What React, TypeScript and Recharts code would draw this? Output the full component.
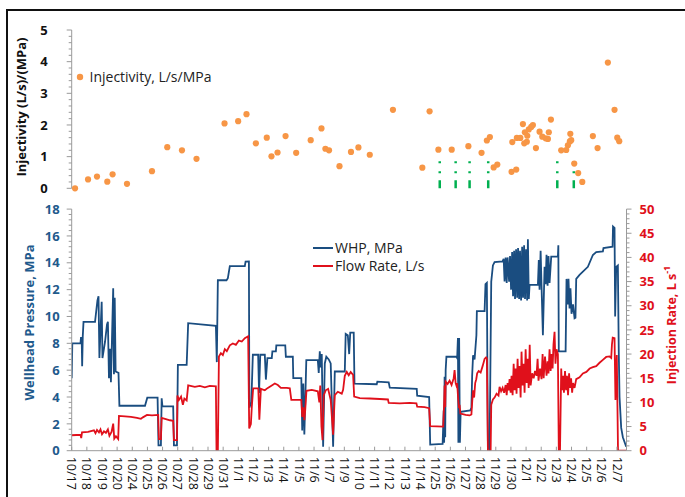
import React from 'react';
import { ScatterChart, Scatter, LineChart, Line, XAxis, YAxis, ReferenceLine, Legend } from 'recharts';

const FONT = "'Open Sans', 'Noto Sans', sans-serif";
const AXIS_GREY = '#9a9a9a';
const BLUE = '#1a4d80';
const BLUE_TEXT = '#1f5a8c';
const RED = '#e0101b';
const ORANGE = '#f79646';
const GREEN = '#00b050';

// ---------- category (date) labels on the time axis ----------
const dateLabels = ['10/17','10/18','10/19','10/20','10/24','10/25','10/26','10/27','10/28','10/29','10/31','11/1','11/2','11/3','11/4','11/5','11/6','11/7','11/9','11/10','11/11','11/12','11/13','11/14','11/25','11/26','11/27','11/28','11/29','11/30','12/1','12/2','12/3','12/4','12/5','12/6','12/7'];
const X_MAX = 36.63;
const dayTicks = dateLabels.map((_, i) => i);

// ---------- injectivity (top panel) ----------
const injDay = [0.22,1.08,1.67,2.35,2.70,3.65,5.30,6.31,7.28,8.24,10.09,10.99,11.54,12.16,12.88,13.19,13.59,14.12,14.82,15.78,16.49,16.75,16.99,17.68,18.44,18.93,19.68,21.21,23.15,23.63,24.21,25.09,26.19,27.06,27.41,27.61,27.86,28.10,29.04,29.35,29.09,29.39,29.62,29.79,29.92,29.88,30.05,30.08,30.18,30.34,30.45,30.65,30.89,31.07,31.29,31.44,31.50,31.64,32.32,32.65,32.76,32.89,32.92,32.98,33.18,33.44,33.71,34.41,34.72,35.40,35.84,36.02,36.15];
const injValue = [0,0.28,0.37,0.21,0.44,0.14,0.54,1.30,1.20,0.93,2.05,2.12,2.34,1.42,1.60,1.01,1.13,1.65,1.12,1.52,1.89,1.25,1.20,0.70,1.15,1.29,1.06,2.48,0.65,2.43,1.22,1.22,1.33,1.12,1.51,1.62,0.66,0.75,0.52,0.59,1.46,1.59,1.59,2.03,1.77,1.42,1.47,1.66,1.86,1.94,2.00,1.27,1.79,1.63,1.58,1.56,1.77,2.17,1.20,1.21,1.36,1.48,1.72,1.52,0.78,0.48,0.20,1.65,1.27,3.97,2.48,1.60,1.49];
const stageMarkerDay = [24.3, 25.35, 26.27, 27.5, 32.06, 33.15];
const stageMarkerTop = 0.9;

// ---------- wellhead pressure (MPa) ----------
const whpDay = [
  0.00,0.04,0.58,0.61,0.66,0.69,0.73,0.78,1.54,1.64,
  1.70,1.77,1.83,1.98,2.03,2.20,2.33,2.39,2.46,2.53,
  2.59,2.74,2.79,2.84,2.90,3.09,3.15,4.84,4.99,5.67,
  5.73,5.89,5.94,5.99,6.70,6.75,6.95,7.01,7.59,7.69,
  9.52,9.58,9.65,10.22,10.31,10.44,11.43,11.48,11.70,11.73,
  11.86,11.96,12.31,12.37,12.45,12.75,12.82,12.92,13.21,13.25,
  13.48,13.51,14.10,14.14,14.60,14.63,15.16,15.22,15.29,15.36,
  15.49,16.25,16.31,16.38,16.44,16.51,16.60,16.71,16.81,16.97,
  17.10,17.26,17.37,18.03,18.09,18.23,18.32,18.39,18.62,18.67,
  20.14,20.18,20.93,21.00,22.78,22.81,23.60,23.67,24.49,24.56,
  24.59,24.62,24.66,24.69,24.74,25.40,25.45,25.50,25.53,25.58,
  25.63,25.68,26.31,26.39,26.44,26.50,26.60,26.72,26.75,27.26,
  27.32,27.41,27.48,27.59,27.70,27.81,27.92,28.45,28.52,28.58,
  28.65,28.72,28.78,28.88,28.94,29.01,29.08,29.14,29.21,29.27,
  29.34,29.41,29.47,29.54,29.60,29.67,29.74,29.80,29.87,29.93,
  30.00,30.07,30.12,30.18,30.23,30.78,30.84,30.89,30.96,31.02,
  31.11,31.22,31.29,31.35,31.42,31.48,31.55,31.66,32.10,32.13,
  32.16,32.61,32.67,32.74,32.80,32.87,32.93,33.00,33.10,33.20,
  33.26,33.31,33.53,34.08,34.41,34.63,35.07,35.11,35.71,35.74,
  35.84,35.88,35.95,36.06,36.12,36.17,36.28,36.39,36.61
];
const whpValue = [
  5.4,8.0,8.0,8.4,8.4,6.3,8.5,9.6,9.6,10.6,
  11.2,11.5,6.9,11.1,6.9,8.1,9.4,9.6,5.4,7.6,
  5.1,12.1,5.7,11.4,5.9,5.8,3.35,3.35,3.95,3.95,
  0.4,0.4,3.9,3.3,3.3,0.4,0.4,6.4,6.4,9.5,
  9.3,6.6,12.7,12.7,12.85,13.75,13.75,14.08,14.1,3.2,
  3.6,7.15,7.15,4.3,7.15,7.15,5.3,6.9,6.9,7.4,
  7.4,7.85,7.85,7.0,7.0,5.4,5.4,1.5,5.0,1.2,
  6.75,6.75,5.8,7.4,6.2,7.2,0.3,6.5,7.0,6.8,
  6.5,0.3,5.9,5.9,8.7,8.6,7.2,8.8,8.8,5.0,
  4.95,5.15,5.1,4.7,4.6,4.1,4.0,0.45,0.5,3.0,
  0.6,5.5,1.0,6.0,7.0,7.0,6.9,8.4,0.6,8.4,
  0.6,2.9,3.0,3.2,5.6,7.1,6.8,8.6,10.4,10.4,
  12.4,12.5,0.2,0.1,12.6,13.8,14.05,14.1,14.3,12.6,
  14.4,12.5,14.4,12.6,14.5,12.0,14.8,11.5,14.9,11.3,
  15.0,11.4,15.1,11.3,14.9,11.2,15.2,11.4,15.3,11.3,
  15.0,11.2,15.75,11.3,12.35,12.35,14.2,12.0,14.9,12.3,
  8.6,13.7,12.4,14.6,12.3,14.5,12.5,14.46,14.46,15.3,
  7.4,7.4,12.8,10.9,12.8,10.6,12.1,10.2,10.9,9.86,
  9.9,12.8,13.1,13.7,14.58,14.8,14.85,15.1,15.2,16.7,
  16.6,10.0,13.7,13.8,7.3,4.0,1.7,1.0,0.3
];

// ---------- flow / injection rate (L/s) ----------
const flowDay = [
  0.00,0.58,0.63,0.68,1.08,1.47,1.57,1.67,1.80,1.90,
  2.00,2.13,2.26,2.39,2.49,2.63,2.74,2.81,2.92,3.07,
  3.12,3.52,3.91,4.31,4.57,4.70,4.97,5.30,5.71,5.76,
  5.89,5.94,6.16,6.49,6.70,6.75,6.95,6.98,7.08,7.22,
  7.34,7.44,7.59,7.69,8.13,8.46,8.79,9.12,9.52,9.56,
  9.65,9.72,9.85,9.98,10.11,10.24,10.44,10.64,10.84,11.04,
  11.23,11.43,11.65,11.72,11.83,11.89,11.98,12.32,12.39,12.49,
  12.75,12.95,13.21,13.41,13.61,13.81,14.20,14.40,14.50,15.16,
  15.22,15.29,15.36,15.42,15.50,15.85,16.25,16.35,16.41,16.49,
  16.56,16.64,16.77,16.93,17.10,17.26,17.37,17.57,17.83,17.92,
  18.03,18.16,18.29,18.42,18.58,18.65,19.02,19.68,20.34,20.88,
  20.93,21.66,22.32,22.76,22.81,23.30,23.60,23.67,24.53,24.59,
  24.62,24.66,24.69,24.82,24.95,25.08,25.22,25.28,25.35,25.40,
  25.45,25.51,25.57,25.61,25.66,25.75,26.01,26.27,26.39,26.44,
  26.50,26.57,26.64,26.71,26.77,26.87,27.00,27.13,27.26,27.36,
  27.41,27.48,27.66,27.70,27.81,27.92,28.05,28.18,28.25,28.35,
  28.45,28.55,28.65,28.72,28.78,28.85,28.91,28.98,29.04,29.11,
  29.18,29.24,29.31,29.37,29.44,29.50,29.57,29.64,29.70,29.77,
  29.84,29.90,29.97,30.04,30.10,30.17,30.24,30.30,30.40,30.50,
  30.59,30.69,30.76,30.82,30.92,31.02,31.09,31.16,31.25,31.35,
  31.42,31.48,31.55,31.62,31.68,31.75,31.81,31.88,31.94,32.01,
  32.10,32.16,32.24,32.32,32.37,32.44,32.50,32.57,32.64,32.70,
  32.77,32.84,32.90,32.97,33.04,33.10,33.20,33.31,33.53,33.75,
  33.98,34.20,34.41,34.63,34.85,35.07,35.29,35.51,35.62,35.67,
  35.72,35.84,35.90,35.99,36.07,36.63
];
const flowValue = [
  3.2,3.3,2.6,3.8,3.9,4.2,3.6,4.3,3.8,4.4,
  3.4,4.0,3.7,4.4,3.1,3.9,5.6,2.5,3.0,2.4,
  7.2,7.1,7.0,6.8,6.6,6.9,7.4,7.3,7.4,2.4,
  2.4,6.8,6.6,6.3,6.2,2.2,2.2,11.4,10.5,11.2,
  9.5,10.8,10.4,13.5,13.2,13.4,13.1,13.4,13.3,0,
  0,19.5,20.2,19.8,21.0,20.6,21.8,22.2,21.9,22.8,
  22.6,23.3,23.7,4.6,5.5,9.0,12.9,12.9,6.4,12.8,
  12.5,13.0,13.5,13.9,13.6,13.0,13.0,12.9,10.5,10.5,
  7.0,9.0,6.3,8.5,12.4,12.6,12.3,10.0,13.5,5.0,
  2.2,11.5,12.5,12.8,10.5,3.3,11.5,12.2,11.8,12.6,
  15.5,16.3,15.6,16.3,15.7,11.2,10.9,10.8,10.7,10.6,
  9.9,9.8,9.9,9.8,9.1,9.0,8.8,5.1,5.0,10.0,
  13.5,9.0,14.3,13.8,14.5,13.6,15.0,16.7,14.0,13.5,
  14.0,11.0,8.8,9.5,7.7,7.6,7.4,7.3,7.5,10.0,
  12.5,11.0,14.0,14.8,16.0,16.5,16.2,17.5,19.0,19.3,
  19.1,0,0,9.5,10.6,11.0,11.8,11.4,13.2,12.3,
  13.0,12.0,13.6,11.5,14.0,12.5,14.8,12.0,15.5,11.5,
  18.0,12.5,17.0,11.8,19.0,13.0,17.5,11.0,20.5,13.5,
  18.0,12.0,21.0,14.0,19.0,13.0,21.9,13.5,16.0,15.0,
  16.5,15.5,19.0,14.5,17.0,14.8,20.0,15.0,19.5,15.5,
  18.5,16.0,21.0,16.5,20.0,17.0,22.0,24.6,18.0,21.0,
  20.0,0,0,17.0,12.5,15.5,12.0,16.5,12.5,15.5,
  11.5,16.0,13.0,15.0,12.0,14.0,13.0,14.8,15.2,16.0,
  16.3,17.0,17.3,17.5,18.2,18.8,19.4,19.5,19.2,22.0,
  23.4,23.3,10.5,19.8,0,0
];

// ---------- axis tick values (major + minor) ----------
const injTicks = Array.from({ length: 26 }, (_, i) => +(i * 0.2).toFixed(1));
const whpTicks = Array.from({ length: 46 }, (_, i) => +(i * 0.4).toFixed(1));
const flowTicks = Array.from({ length: 51 }, (_, i) => i);

const injData = injDay.map((x, i) => ({ x, y: injValue[i] }));
const whpData = whpDay.map((x, i) => ({ x, y: whpValue[i] }));
const flowData = flowDay.map((x, i) => ({ x, y: flowValue[i] }));

const isInt = (v: number) => Math.abs(v - Math.round(v)) < 1e-6;

const makeYTick = (
  side: 'left' | 'right',
  isMajor: (v: number) => boolean,
  color: string,
  gap: number,
) => (props: any) => {
  const { x, y, payload } = props;
  const v = Number(payload.value);
  const major = isMajor(v);
  const d = side === 'left' ? -1 : 1;
  const len = major ? 5 : 3;
  return (
    <g>
      <line x1={x} x2={x + d * len} y1={y} y2={y} stroke={AXIS_GREY} strokeWidth={1} />
      {major ? (
        <text
          x={x + d * gap}
          y={y}
          dy="0.36em"
          textAnchor={side === 'left' ? 'end' : 'start'}
          fill={color}
          fontSize={13}
          fontWeight={700}
          fontFamily={FONT}
        >
          {Math.round(v)}
        </text>
      ) : null}
    </g>
  );
};

const injTick = makeYTick('left', isInt, '#111', 24);
const whpTick = makeYTick('left', (v) => isInt(v) && Math.round(v) % 2 === 0, BLUE_TEXT, 12);
const flowTick = makeYTick('right', (v) => isInt(v) && Math.round(v) % 5 === 0, RED, 13);

const DateTick = (props: any) => {
  const { x, y, payload } = props;
  const label = dateLabels[Math.round(Number(payload.value))] ?? '';
  const ty = y + 6;
  return (
    <g>
      <line x1={x} x2={x} y1={y} y2={y - 4} stroke={AXIS_GREY} strokeWidth={1} />
      <text
        x={x}
        y={ty}
        transform={`rotate(90, ${x}, ${ty})`}
        dy="0.35em"
        textAnchor="start"
        fontSize={12.5}
        fill="#111"
        fontFamily={FONT}
      >
        {label}
      </text>
    </g>
  );
};

const VTitle = ({ cx, cy, angle, color, children }: any) => (
  <text
    x={cx}
    y={cy}
    transform={`rotate(${angle}, ${cx}, ${cy})`}
    textAnchor="middle"
    dominantBaseline="central"
    fill={color}
    fontSize={13}
    fontWeight={700}
    fontFamily={FONT}
  >
    {children}
  </text>
);

const TopLegend = () => (
  <div style={{ display: 'flex', alignItems: 'center', height: 21, lineHeight: '21px', fontFamily: FONT, fontSize: 14, color: '#222', whiteSpace: 'nowrap' }}>
    <svg width={12} height={12} style={{ display: 'block' }}>
      <circle cx={6} cy={6} r={3.2} fill={ORANGE} />
    </svg>
    <span style={{ marginLeft: 3.5 }}>Injectivity, L/s/MPa</span>
  </div>
);

const BottomLegend = () => (
  <div style={{ fontFamily: FONT, fontSize: 14, color: '#222', whiteSpace: 'nowrap' }}>
    {[
      { c: BLUE, t: 'WHP, MPa' },
      { c: RED, t: 'Flow Rate, L/s' },
    ].map((r) => (
      <div key={r.t} style={{ display: 'flex', alignItems: 'center', height: 18.3, lineHeight: '18.3px' }}>
        <svg width={20} height={4} style={{ display: 'block' }}>
          <line x1={0} x2={20} y1={2} y2={2} stroke={r.c} strokeWidth={2} />
        </svg>
        <span style={{ marginLeft: 2 }}>{r.t}</span>
      </div>
    ))}
  </div>
);

export default function App() {
  return (
    <div style={{ position: 'absolute', left: 0, top: 0, width: 685, height: 497, overflow: 'hidden', background: '#fff' }}>
      <div style={{ position: 'absolute', left: 6, top: 9, width: 800, height: 700, borderLeft: '2.5px solid #111', borderTop: '2.5px solid #111' }} />

      <div style={{ position: 'absolute', left: 0, top: 0 }}>
        <ScatterChart width={685} height={200} margin={{ top: 30, right: 58.5, bottom: 11.7, left: 31.7 }}>
          <XAxis
            type="number"
            dataKey="x"
            domain={[0, X_MAX]}
            ticks={dayTicks}
            tick={false}
            tickLine={false}
            axisLine={{ stroke: AXIS_GREY }}
            height={0}
          />
          <YAxis
            type="number"
            dataKey="y"
            domain={[0, 5]}
            ticks={injTicks}
            interval={0}
            tickSize={0}
            tickMargin={0}
            tickLine={false}
            tick={injTick}
            axisLine={{ stroke: AXIS_GREY }}
            width={40}
            label={{ content: () => <VTitle cx={21} cy={107} angle={-90} color="#111">Injectivity (L/s)/(MPa)</VTitle> }}
          />
          <Legend
            layout="vertical"
            align="center"
            verticalAlign="middle"
            wrapperStyle={{ left: 74, top: 66, width: 200 }}
            content={() => <TopLegend />}
          />
          {stageMarkerDay.map((d) => (
            <ReferenceLine
              key={d}
              segment={[{ x: d, y: 0 }, { x: d, y: stageMarkerTop }]}
              stroke={GREEN}
              strokeWidth={2.5}
              strokeDasharray="8 7 2 8 2 100"
            />
          ))}
          <Scatter
            name="Injectivity, L/s/MPa"
            data={injData}
            fill={ORANGE}
            isAnimationActive={false}
            shape={(p: any) => <circle cx={p.cx} cy={p.cy} r={3.1} fill={ORANGE} />}
          />
        </ScatterChart>
      </div>

      <div style={{ position: 'absolute', left: 0, top: 195 }}>
        <LineChart width={685} height={302} margin={{ top: 14.1, right: 8.5, bottom: 6.3, left: 31.7 }}>
          <XAxis
            type="number"
            dataKey="x"
            domain={[0, X_MAX]}
            ticks={dayTicks}
            interval={0}
            tickSize={0}
            tickMargin={0}
            tickLine={false}
            tick={<DateTick />}
            axisLine={{ stroke: AXIS_GREY }}
            height={40}
            allowDataOverflow
          />
          <YAxis
            yAxisId="whp"
            orientation="left"
            type="number"
            domain={[0, 18]}
            ticks={whpTicks}
            interval={0}
            tickSize={0}
            tickMargin={0}
            tickLine={false}
            tick={whpTick}
            axisLine={{ stroke: AXIS_GREY }}
            width={40}
            allowDataOverflow
            label={{ content: () => <VTitle cx={29} cy={127.5} angle={-90} color={BLUE_TEXT}>Wellhead Pressure, MPa</VTitle> }}
          />
          <YAxis
            yAxisId="flow"
            orientation="right"
            type="number"
            domain={[0, 50]}
            ticks={flowTicks}
            interval={0}
            tickSize={0}
            tickMargin={0}
            tickLine={false}
            tick={flowTick}
            axisLine={{ stroke: AXIS_GREY }}
            width={50}
            allowDataOverflow
            label={{
              content: () => (
                <text
                  x={671}
                  y={130}
                  transform="rotate(-90, 671, 130)"
                  textAnchor="middle"
                  dominantBaseline="central"
                  fill={RED}
                  fontSize={12.5}
                  fontWeight={700}
                  fontFamily={FONT}
                >
                  Injection Rate, L s<tspan dy={-5} fontSize={9}>-1</tspan>
                </text>
              ),
            }}
          />
          <Legend
            layout="vertical"
            align="center"
            verticalAlign="middle"
            wrapperStyle={{ left: 313, top: 43.5, width: 140 }}
            content={() => <BottomLegend />}
          />
          <Line
            yAxisId="whp"
            name="WHP, MPa"
            data={whpData}
            dataKey="y"
            type="linear"
            stroke={BLUE}
            strokeWidth={1.8}
            dot={false}
            isAnimationActive={false}
          />
          <Line
            yAxisId="flow"
            name="Flow Rate, L/s"
            data={flowData}
            dataKey="y"
            type="linear"
            stroke={RED}
            strokeWidth={1.8}
            dot={false}
            isAnimationActive={false}
          />
        </LineChart>
      </div>
    </div>
  );
}
